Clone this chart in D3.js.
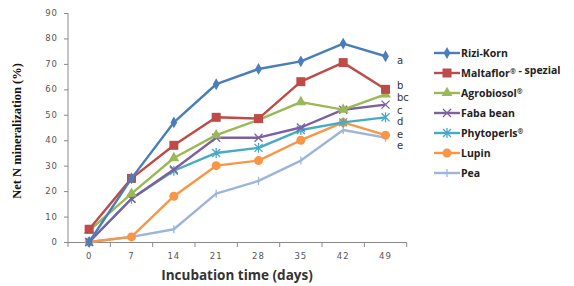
<!DOCTYPE html>
<html>
<head>
<meta charset="utf-8">
<script src="https://cdn.jsdelivr.net/npm/d3@7"></script>
<style>
  body { margin: 0; background: #fff; }
  svg { display: block; }
</style>
</head>
<body>
<div id="chart"></div>
<script>
// data
var days = ["0", "7", "14", "21", "28", "35", "42", "49"];
var yTicks = [0, 10, 20, 30, 40, 50, 60, 70, 80, 90];
var seriesNames = ["Rizi-Korn", "Maltaflor\u00AE - spezial", "Agrobiosol\u00AE", "Faba bean", "Phytoperls\u00AE", "Lupin", "Pea"];
var riziKorn   = [0, 25, 47, 62, 68, 71, 78, 73];
var maltaflor  = [5, 25, 38, 49, 48.5, 63, 70.5, 60];
var agrobiosol = [4.5, 19, 33, 42, 48, 55, 52, 58];
var fababean   = [0, 17, 28.5, 41, 41, 45, 52, 54];
var phytoperls = [0, 17, 28, 35, 37, 44, 47, 49];
var lupin      = [0, 2, 18, 30, 32, 40, 47, 42];
var pea        = [0, 2, 5, 19, 24, 32, 44, 41];
var letters    = ["a", "b", "bc", "c", "d", "e", "e"];

var allSeries = [riziKorn, maltaflor, agrobiosol, fababean, phytoperls, lupin, pea];
var colors = ["#4A7EBB", "#BE4B48", "#98B954", "#7D60A0", "#46AAC5", "#F79646", "#9DB5DB"];
var markers = ["diamond", "square", "triangle", "x", "star", "circle", "plus"];
// small vertical nudges for the significance letters so they don't collide
var letterDy = [4.7, -3.4, 2.6, 5.4, 4.4, -1, 8];

var W = 574, H = 286;
var svg = d3.select("#chart").append("svg")
    .attr("width", W)
    .attr("height", H);

var x = d3.scaleBand().domain(days).range([68, 406.7]);
var y = d3.scaleLinear().domain([0, 90]).range([242, 13]);
var xc = function(d) { return x(d) + x.bandwidth() / 2; };

var axisColor = "#8a8a8a";
var tickFont = "'DejaVu Sans', sans-serif";

// y axis
svg.append("line")
    .attr("x1", 68).attr("x2", 68)
    .attr("y1", y(90)).attr("y2", y(0))
    .attr("stroke", axisColor);
svg.selectAll(".ytick").data(yTicks).enter().append("line")
    .attr("x1", 64).attr("x2", 68)
    .attr("y1", function(d) { return y(d) + 0.5; })
    .attr("y2", function(d) { return y(d) + 0.5; })
    .attr("stroke", axisColor);
svg.selectAll(".ylab").data(yTicks).enter().append("text")
    .attr("x", 58)
    .attr("y", function(d) { return y(d); })
    .attr("dy", "0.35em")
    .attr("text-anchor", "end")
    .style("font-family", tickFont)
    .style("font-size", "8.5px")
    .style("letter-spacing", "1px")
    .style("fill", "#555")
    .text(function(d) { return d; });

// x axis
svg.append("line")
    .attr("x1", 68).attr("x2", 406.7)
    .attr("y1", y(0) + 0.5).attr("y2", y(0) + 0.5)
    .attr("stroke", axisColor);
var bounds = days.map(function(d) { return x(d); }).concat([x.range()[1]]);
svg.selectAll(".xtick").data(bounds).enter().append("line")
    .attr("x1", function(d) { return d; }).attr("x2", function(d) { return d; })
    .attr("y1", y(0)).attr("y2", y(0) + 5)
    .attr("stroke", axisColor);
svg.selectAll(".xlab").data(days).enter().append("text")
    .attr("x", xc)
    .attr("y", 259)
    .attr("text-anchor", "middle")
    .style("font-family", tickFont)
    .style("font-size", "8.5px")
    .style("letter-spacing", "1px")
    .style("fill", "#555")
    .text(function(d) { return d; });

// axis titles
svg.append("text")
    .attr("x", 237).attr("y", 280)
    .attr("text-anchor", "middle")
    .style("font-family", "'Open Sans', sans-serif")
    .style("font-weight", "bold")
    .style("font-size", "13.5px")
    .style("fill", "#333")
    .text("Incubation time (days)");
svg.append("text")
    .attr("transform", "translate(21,131) rotate(-90)")
    .attr("text-anchor", "middle")
    .style("font-family", "'Liberation Serif', 'Times New Roman', 'DejaVu Serif', serif")
    .style("font-weight", "bold")
    .style("font-size", "12.5px")
    .style("fill", "#111")
    .text("Net N mineralization (%)");

// marker drawing
function drawMarker(g, type, color, cx, cy) {
  if (type === "diamond") {
    g.append("path").attr("d", d3.symbol(d3.symbolDiamond, 40)())
      .attr("transform", "translate(" + cx + "," + cy + ")").attr("fill", color);
  } else if (type === "square") {
    g.append("rect").attr("x", cx - 4.5).attr("y", cy - 4.5)
      .attr("width", 9).attr("height", 9).attr("fill", color);
  } else if (type === "triangle") {
    g.append("path").attr("d", d3.symbol(d3.symbolTriangle, 50)())
      .attr("transform", "translate(" + cx + "," + cy + ")").attr("fill", color);
  } else if (type === "circle") {
    g.append("circle").attr("cx", cx).attr("cy", cy).attr("r", 4.5).attr("fill", color);
  } else if (type === "x" || type === "star") {
    var s = 4;
    g.append("path")
      .attr("d", "M" + (cx - s) + "," + (cy - s) + "L" + (cx + s) + "," + (cy + s) +
                 "M" + (cx - s) + "," + (cy + s) + "L" + (cx + s) + "," + (cy - s) +
                 (type === "star" ? "M" + cx + "," + (cy - s - 1) + "L" + cx + "," + (cy + s + 1) : ""))
      .attr("stroke", color).attr("stroke-width", 1.3).attr("fill", "none");
  } else if (type === "plus") {
    g.append("path")
      .attr("d", "M" + cx + "," + (cy - 4) + "L" + cx + "," + (cy + 4))
      .attr("stroke", color).attr("stroke-width", 1.3);
  }
}

var line = d3.line()
    .x(function(d, i) { return xc(days[i]); })
    .y(function(d) { return y(d); });

// draw series, last series first so Rizi-Korn is on top
for (var k = allSeries.length - 1; k >= 0; k--) {
  var g = svg.append("g");
  g.append("path")
    .datum(allSeries[k])
    .attr("d", line)
    .attr("fill", "none")
    .attr("stroke", colors[k])
    .attr("stroke-width", 2.4)
    .attr("stroke-linejoin", "round");
  allSeries[k].forEach(function(v, i) {
    drawMarker(g, markers[k], colors[k], xc(days[i]), y(v));
  });
}

// significance letters
svg.selectAll(".letter").data(letters).enter().append("text")
    .attr("x", 397)
    .attr("y", function(d, i) { return y(allSeries[i][7]) + letterDy[i]; })
    .attr("dy", "0.35em")
    .style("font-family", tickFont)
    .style("font-size", "10px")
    .style("fill", "#333")
    .text(function(d) { return d; });

// legend
var legend = svg.append("g");
seriesNames.forEach(function(name, i) {
  var ly = 53 + i * 20;
  legend.append("line")
    .attr("x1", 434).attr("x2", 460)
    .attr("y1", ly).attr("y2", ly)
    .attr("stroke", colors[i]).attr("stroke-width", 2.4);
  drawMarker(legend, markers[i], colors[i], 447, ly);
  var t = legend.append("text")
    .attr("x", 461).attr("y", ly)
    .attr("dy", "0.35em")
    .style("font-family", "'Open Sans', sans-serif")
    .style("font-weight", "bold")
    .style("font-size", "10.5px")
    .style("fill", "#222");
  // put the (R) sign up as a superscript
  name.split(/(\u00AE)/).forEach(function(part) {
    if (!part) return;
    if (part === "\u00AE") {
      t.append("tspan").attr("dy", "-0.35em").style("font-size", "7px").text(part);
      t.append("tspan").attr("dy", "0.35em").text("");
    } else {
      t.append("tspan").text(part);
    }
  });
});
</script>
</body>
</html>
